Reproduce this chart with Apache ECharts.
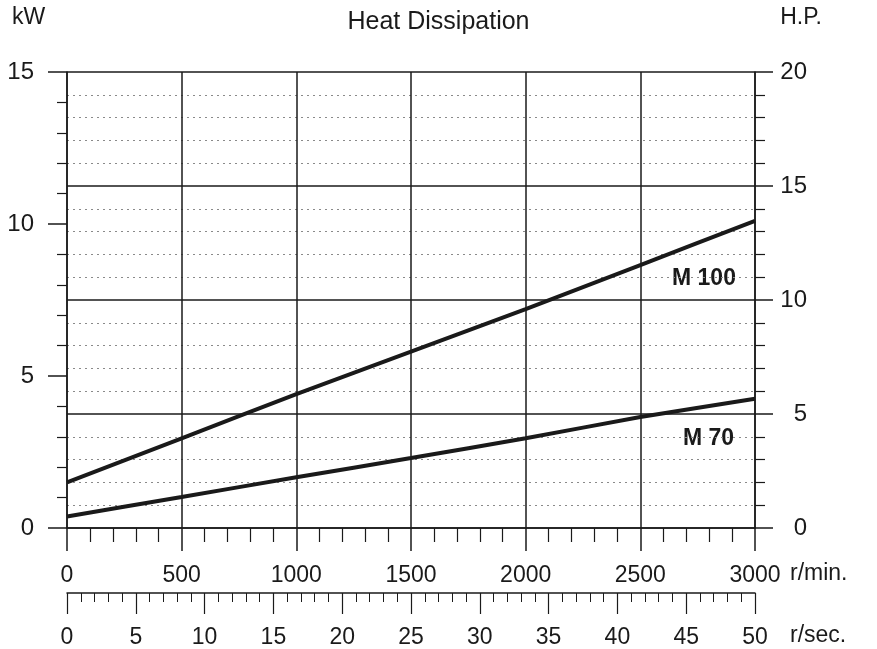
<!DOCTYPE html>
<html>
<head>
<meta charset="utf-8">
<script src="https://cdn.jsdelivr.net/npm/echarts@6/dist/echarts.min.js"></script>
<style>
  html, body { margin: 0; padding: 0; background: #fff; }
  #chart { width: 877px; height: 649px; }
</style>
</head>
<body>
<div id="chart"></div>
<script>
// speed in r/min
var rpm = [0, 500, 1000, 1500, 2000, 2500, 3000];
// heat dissipation in kW
var m100 = [1.5, 2.95, 4.4, 5.8, 7.2, 8.65, 10.1];
var m70 = [0.38, 1.02, 1.67, 2.3, 2.95, 3.65, 4.25];

var font = 'Liberation Sans, Arial, sans-serif';
var ink = '#1a1a1a';

function pairs(ys) {
    return rpm.map(function (x, i) { return [x, ys[i]]; });
}
// plain numbers, no thousands separator
function plain(v) { return String(v); }

var chart = echarts.init(document.getElementById('chart'));

var option = {
    backgroundColor: '#fff',
    animation: false,
    title: {
        text: 'Heat Dissipation',
        left: 'center',
        top: 5,
        textStyle: { fontFamily: font, fontSize: 25, fontWeight: 'normal', color: ink }
    },
    grid: { left: 67, right: 122, top: 72, bottom: 120 },
    xAxis: [{
        // r/min
        type: 'value', min: 0, max: 3000, interval: 500,
        axisLine: { lineStyle: { color: ink, width: 1.5 } },
        axisTick: { length: 23, lineStyle: { color: ink, width: 1.5 } },
        minorTick: { show: true, splitNumber: 5, length: 14, lineStyle: { color: ink, width: 1.2 } },
        splitLine: { show: true, lineStyle: { color: ink, width: 1.5 } },
        axisLabel: { margin: 36, fontFamily: font, fontSize: 23, color: ink, formatter: plain }
    }, {
        // r/sec ruler
        type: 'value', min: 0, max: 50, interval: 5,
        position: 'bottom', offset: 65,
        axisLine: { onZero: false, lineStyle: { color: ink, width: 1.5 } },
        axisTick: { length: 21, lineStyle: { color: ink, width: 1.2 } },
        minorTick: { show: true, splitNumber: 5, length: 9, lineStyle: { color: ink, width: 1 } },
        splitLine: { show: false },
        axisLabel: { margin: 33, fontFamily: font, fontSize: 23, color: ink, formatter: plain }
    }],
    yAxis: [{
        // kW
        type: 'value', min: 0, max: 15, interval: 5, position: 'left',
        axisLine: { show: true, onZero: false, lineStyle: { color: ink, width: 1.5 } },
        axisTick: { show: true, length: 19, lineStyle: { color: ink, width: 1.5 } },
        minorTick: { show: true, splitNumber: 5, length: 10, lineStyle: { color: ink, width: 1.2 } },
        splitLine: { show: false },
        axisLabel: { margin: 33, fontFamily: font, fontSize: 24, color: ink }
    }, {
        // H.P.
        type: 'value', min: 0, max: 20, interval: 5, position: 'right',
        axisLine: { show: true, onZero: false, lineStyle: { color: ink, width: 1.5 } },
        axisTick: { show: true, length: 18, lineStyle: { color: ink, width: 1.5 } },
        minorTick: { show: true, splitNumber: 5, length: 10, lineStyle: { color: ink, width: 1.2 } },
        splitLine: { show: true, lineStyle: { color: ink, width: 1.5 } },
        minorSplitLine: { show: true, lineStyle: { color: '#8a8a8a', width: 1, type: [2, 4] } },
        axisLabel: { margin: 52, align: 'right', fontFamily: font, fontSize: 24, color: ink }
    }],
    series: [{
        name: 'M 100', type: 'line', xAxisIndex: 0, yAxisIndex: 0,
        showSymbol: false, smooth: 0.2,
        lineStyle: { color: ink, width: 4 },
        data: pairs(m100)
    }, {
        name: 'M 70', type: 'line', xAxisIndex: 0, yAxisIndex: 0,
        showSymbol: false, smooth: 0.2,
        lineStyle: { color: ink, width: 4 },
        data: pairs(m70)
    }],
    graphic: [
        { type: 'text', left: 12, top: 6, style: { text: 'kW', font: '23px ' + font, fill: ink } },
        { type: 'text', right: 55, top: 6, style: { text: 'H.P.', font: '23px ' + font, fill: ink } },
        { type: 'text', left: 790, top: 562, style: { text: 'r/min.', font: '23px ' + font, fill: ink } },
        { type: 'text', left: 790, top: 624, style: { text: 'r/sec.', font: '23px ' + font, fill: ink } },
        { type: 'text', left: 672, top: 267, style: { text: 'M 100', font: 'bold 23px ' + font, fill: ink } },
        { type: 'text', left: 683, top: 427, style: { text: 'M 70', font: 'bold 23px ' + font, fill: ink } }
    ]
};

chart.setOption(option);
</script>
</body>
</html>
